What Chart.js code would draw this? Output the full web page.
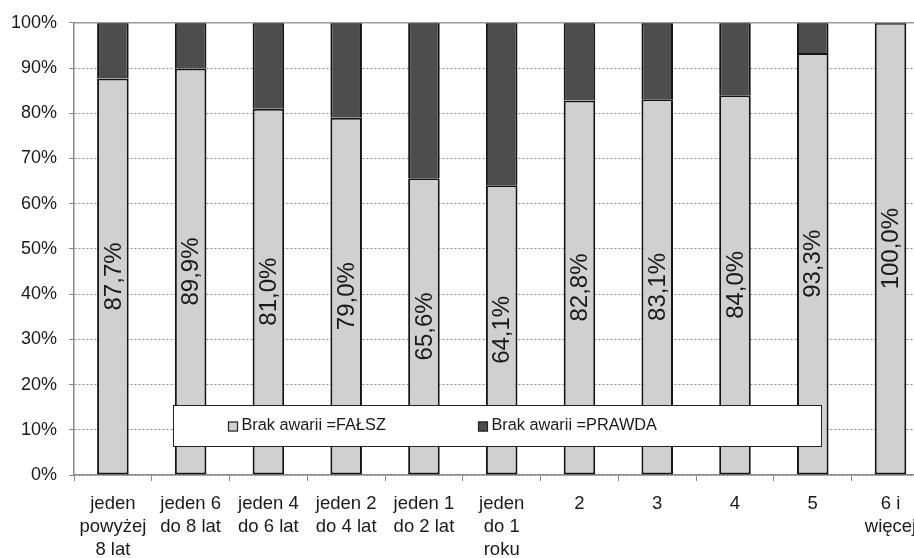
<!DOCTYPE html>
<html>
<head>
<meta charset="utf-8">
<script src="https://cdn.jsdelivr.net/npm/chart.js@4/dist/chart.umd.min.js"></script>
<style>
  html, body { margin: 0; padding: 0; background: #fff; overflow: hidden; }
  #wrap { width: 914px; height: 558px; overflow: hidden; position: relative; }
  canvas { display: block; }
</style>
</head>
<body>
<div id="wrap"><canvas id="c" width="940" height="570"></canvas></div>
<script>
// Age / count groups on the x axis
const categories = [
  ['jeden', 'powyżej', '8 lat'],
  ['jeden 6', 'do 8 lat'],
  ['jeden 4', 'do 6 lat'],
  ['jeden 2', 'do 4 lat'],
  ['jeden 1', 'do 2 lat'],
  ['jeden', 'do 1', 'roku'],
  '2', '3', '4', '5',
  ['6 i', 'więcej']
];

const seriesNames = ['Brak awarii =FAŁSZ', 'Brak awarii =PRAWDA'];

// Shares (%) per group
const falszValues  = [87.7, 89.9, 81.0, 79.0, 65.6, 64.1, 82.8, 83.1, 84.0, 93.3, 100.0];
const prawdaValues = [12.3, 10.1, 19.0, 21.0, 34.4, 35.9, 17.2, 16.9, 16.0, 6.7, 0.0];

const yTicks = [0, 10, 20, 30, 40, 50, 60, 70, 80, 90, 100];

const FONT = '"Liberation Sans", Arial, sans-serif';
const LIGHT = '#d0d0d0';
const DARK = '#4d4d4d';

// Rotated percentage labels inside the lower segments
const valueLabels = {
  id: 'valueLabels',
  afterDatasetsDraw(chart) {
    const meta = chart.getDatasetMeta(0);
    const ctx = chart.ctx;
    ctx.save();
    ctx.font = '24px ' + FONT;
    ctx.fillStyle = '#1a1a1a';
    ctx.textAlign = 'center';
    ctx.textBaseline = 'middle';
    meta.data.forEach((bar, i) => {
      const v = chart.data.datasets[0].data[i];
      const txt = v.toFixed(1).replace('.', ',') + '%';
      const cy = (bar.y + bar.base) / 2;
      ctx.save();
      ctx.translate(bar.x + 1, cy);
      ctx.rotate(-Math.PI / 2);
      ctx.fillText(txt, 0, 0);
      ctx.restore();
    });
    ctx.restore();
  }
};

// Top border of the plot area and the boxed legend inside it
const frameAndLegend = {
  id: 'frameAndLegend',
  afterDraw(chart) {
    const ctx = chart.ctx;
    const a = chart.chartArea;
    ctx.save();
    ctx.strokeStyle = '#9a9a9a';
    ctx.lineWidth = 1.5;
    ctx.beginPath();
    ctx.moveTo(a.left, a.top);
    ctx.lineTo(a.right, a.top);
    ctx.stroke();

    // legend box
    const bx = a.left + 99, by = 405, bw = 648, bh = 41;
    ctx.fillStyle = '#fff';
    ctx.fillRect(bx, by, bw, bh);
    ctx.strokeStyle = '#222';
    ctx.lineWidth = 1;
    ctx.strokeRect(bx + 0.5, by + 0.5, bw, bh);

    const items = [
      { x: bx + 55, color: chart.data.datasets[0].backgroundColor, text: chart.data.datasets[0].label },
      { x: bx + 305, color: chart.data.datasets[1].backgroundColor, text: chart.data.datasets[1].label }
    ];
    ctx.font = '16.3px ' + FONT;
    ctx.textBaseline = 'middle';
    ctx.textAlign = 'left';
    const cy = by + bh / 2 + 0.5;
    items.forEach(it => {
      ctx.fillStyle = it.color;
      ctx.fillRect(it.x, cy - 4.5, 10, 10);
      ctx.strokeStyle = '#222';
      ctx.lineWidth = 1.2;
      ctx.strokeRect(it.x + 0.5, cy - 4.5 + 0.5, 9, 9);
      ctx.fillStyle = '#1a1a1a';
      ctx.fillText(it.text, it.x + 13.5, cy);
    });
    ctx.restore();
  }
};

new Chart(document.getElementById('c'), {
  type: 'bar',
  data: {
    labels: categories,
    datasets: [
      {
        label: seriesNames[0],
        data: falszValues,
        backgroundColor: LIGHT,
        borderColor: '#141414',
        borderWidth: 2,
        borderSkipped: false
      },
      {
        label: seriesNames[1],
        data: prawdaValues,
        backgroundColor: DARK,
        borderColor: '#141414',
        borderWidth: 2,
        borderSkipped: 'bottom'
      }
    ]
  },
  options: {
    responsive: false,
    animation: false,
    devicePixelRatio: 1,
    layout: { padding: { top: 22, right: 10.6, left: 0, bottom: 0 } },
    datasets: { bar: { categoryPercentage: 1, barPercentage: 0.406 } },
    plugins: {
      legend: { display: false },
      tooltip: { enabled: false }
    },
    scales: {
      x: {
        stacked: true,
        afterFit(scale) { scale.height = 95; },
        grid: {
          offset: true,
          drawOnChartArea: false,
          drawTicks: true,
          tickLength: 6,
          tickColor: '#888',
          tickWidth: 1
        },
        border: { display: true, color: '#8a8a8a', width: 1.5 },
        ticks: {
          padding: 11,
          maxRotation: 0,
          autoSkip: false,
          color: '#1a1a1a',
          font: { family: FONT, size: 18.5, lineHeight: '23px' }
        }
      },
      y: {
        stacked: true,
        min: 0,
        max: 100,
        afterFit(scale) { scale.width = 74; },
        afterBuildTicks(scale) { scale.ticks = yTicks.map(v => ({ value: v })); },
        grid: {
          color: '#8a8a8a',
          lineWidth: 1,
          drawTicks: true,
          tickLength: 5,
          tickColor: '#888',
          tickBorderDash: []
        },
        border: { display: true, color: '#8a8a8a', width: 1.5, dash: [2, 2] },
        ticks: {
          padding: 12,
          color: '#1a1a1a',
          font: { family: FONT, size: 18 },
          callback: v => v + '%'
        }
      }
    }
  },
  plugins: [valueLabels, frameAndLegend]
});
</script>
</body>
</html>
